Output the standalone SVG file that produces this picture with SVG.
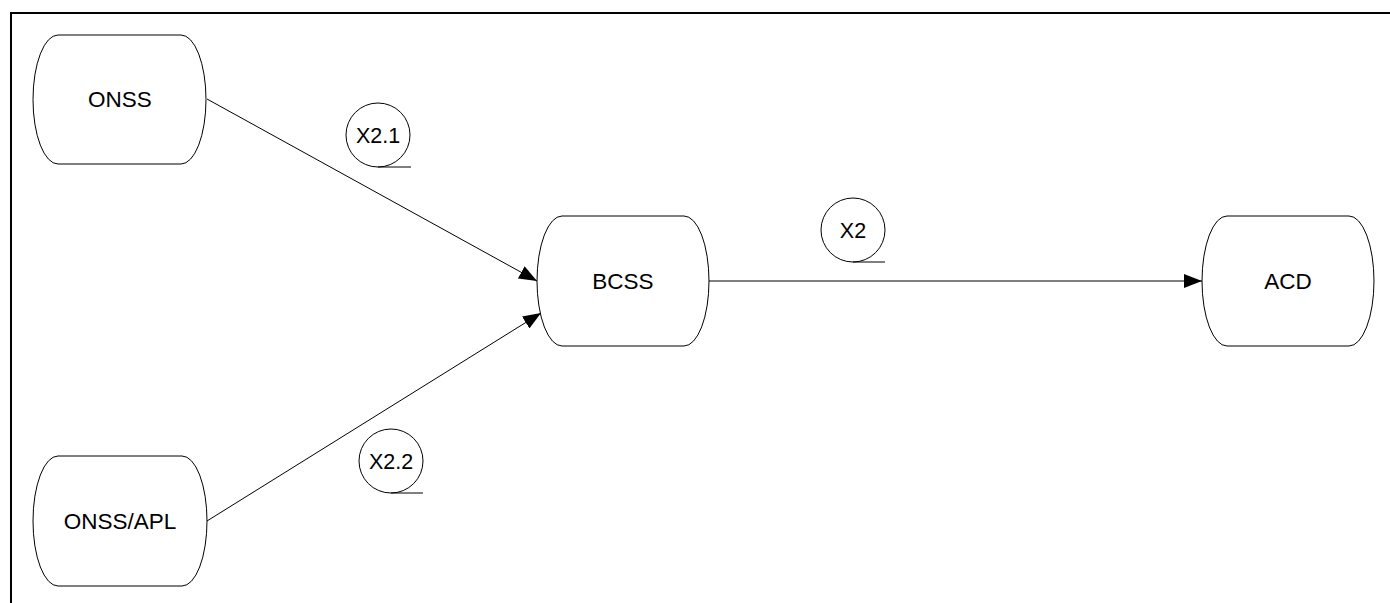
<svg xmlns="http://www.w3.org/2000/svg" width="1390" height="603" viewBox="0 0 1390 603">
<style>
.node{fill:#fff;stroke:#000;stroke-width:1}
.lbl{fill:none;stroke:#000;stroke-width:1}
.t{font-family:"Liberation Sans",Arial,sans-serif;font-size:22.5px;fill:#000;text-anchor:middle}
.tl{font-family:"Liberation Sans",Arial,sans-serif;font-size:21.5px;fill:#000;text-anchor:middle}
.c{fill:none;stroke:#000;stroke-width:1}
</style>
<defs>
<marker id="arr" viewBox="0 0 18 14" refX="18" refY="7" markerWidth="18" markerHeight="14" markerUnits="userSpaceOnUse" orient="auto">
<path d="M0,0 L18,7 L0,14 Z" fill="#000"/>
</marker>
</defs>
<rect width="1390" height="603" fill="#fff"/>
<g id="frame">
<line x1="11" y1="13" x2="1390" y2="13" stroke="#000" stroke-width="2"/>
<line x1="11" y1="12" x2="11" y2="603" stroke="#000" stroke-width="2"/>
</g>
<g id="connectors">
<line class="c" x1="207" y1="99" x2="537" y2="281" marker-end="url(#arr)"/>
<line class="c" x1="207" y1="521" x2="541" y2="313" marker-end="url(#arr)"/>
<line class="c" x1="709" y1="281" x2="1202" y2="281" marker-end="url(#arr)"/>
</g>
<g id="label-x21">
<circle class="lbl" cx="378" cy="135" r="32"/>
<line class="lbl" x1="378" y1="167" x2="411" y2="167"/>
<text class="tl" x="378" y="143">X2.1</text>
</g>
<g id="label-x2">
<circle class="lbl" cx="853" cy="230" r="32"/>
<line class="lbl" x1="853" y1="262" x2="885" y2="262"/>
<text class="tl" x="853" y="238">X2</text>
</g>
<g id="label-x22">
<circle class="lbl" cx="391" cy="461" r="32"/>
<line class="lbl" x1="391" y1="493" x2="423" y2="493"/>
<text class="tl" x="391" y="469">X2.2</text>
</g>
<g id="node-onss">
<path class="node" d="M58,35 H181 A25,64.5 0 0 1 181,164 H58 A25,64.5 0 0 1 58,35 Z"/>
<text class="t" x="120" y="107">ONSS</text>
</g>
<g id="node-onssapl">
<path class="node" d="M58,456 H182 A25,65 0 0 1 182,586 H58 A25,65 0 0 1 58,456 Z"/>
<text class="t" x="120" y="529">ONSS/APL</text>
</g>
<g id="node-bcss">
<path class="node" d="M562,216 H684 A25,65 0 0 1 684,346 H562 A25,65 0 0 1 562,216 Z"/>
<text class="t" x="623" y="289">BCSS</text>
</g>
<g id="node-acd">
<path class="node" d="M1227,216 H1349 A25,65 0 0 1 1349,346 H1227 A25,65 0 0 1 1227,216 Z"/>
<text class="t" x="1288" y="289">ACD</text>
</g>
</svg>
